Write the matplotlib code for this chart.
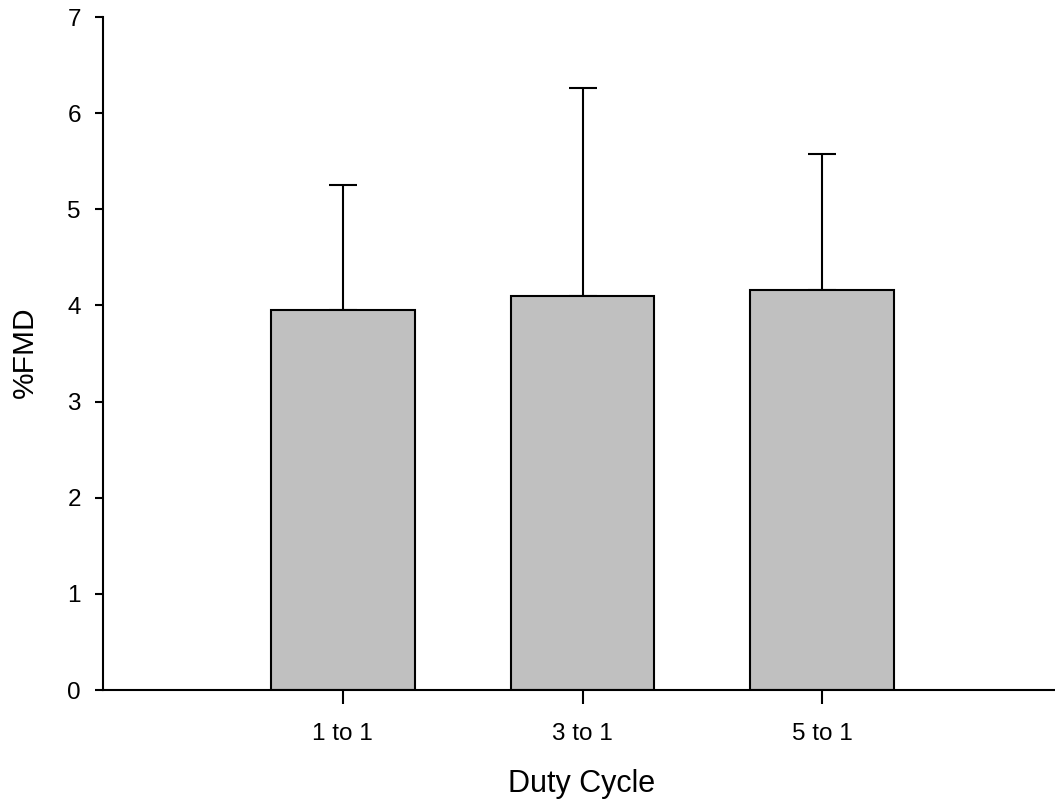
import matplotlib
matplotlib.use("Agg")
import matplotlib.pyplot as plt

categories = ["1 to 1", "3 to 1", "5 to 1"]
values = [3.95, 4.10, 4.16]
errors = [1.30, 2.16, 1.42]

plt.rcParams['font.family'] = ['Liberation Sans', 'DejaVu Sans']

fig = plt.figure(figsize=(10.55, 8.05), dpi=100)
W, H = 1055, 805
ax = fig.add_axes([103 / W, (H - 690) / H, (1062 - 103) / W, (690 - 17) / H])

pos = [1, 2, 3]
ax.bar(pos, values, width=0.6, color="#c0c0c0", edgecolor="black", linewidth=1.5, zorder=2)
ax.errorbar(pos, values, yerr=[[0] * 3, errors], fmt="none", ecolor="black",
            elinewidth=1.5, capsize=10, capthick=1.5, zorder=1)

ax.set_xlim(0, 4)
ax.set_ylim(0, 7)
ax.set_yticks(range(8))
ax.set_xticks(pos)
ax.set_xticklabels(categories)
for s in ["top", "right"]:
    ax.spines[s].set_visible(False)
for s in ["left", "bottom"]:
    ax.spines[s].set_linewidth(1.5)
ax.tick_params(axis="y", length=6, width=1.5, pad=10, labelsize=17.5)
ax.tick_params(axis="x", length=10, width=1.5, pad=14, labelsize=17.5)
ax.set_ylabel("%FMD", fontsize=21.5)
ax.set_xlabel("Duty Cycle", fontsize=22)
ax.yaxis.set_label_coords(-(103 - 25) / (1062 - 103), (690 - 352) / (690 - 17))
ax.xaxis.set_label_coords((582 - 103) / (1062 - 103), -(784 - 690) / (690 - 17))
ax.xaxis.label.set_va("center")
ax.yaxis.label.set_va("center")

fig.savefig("out.png", dpi=100)
